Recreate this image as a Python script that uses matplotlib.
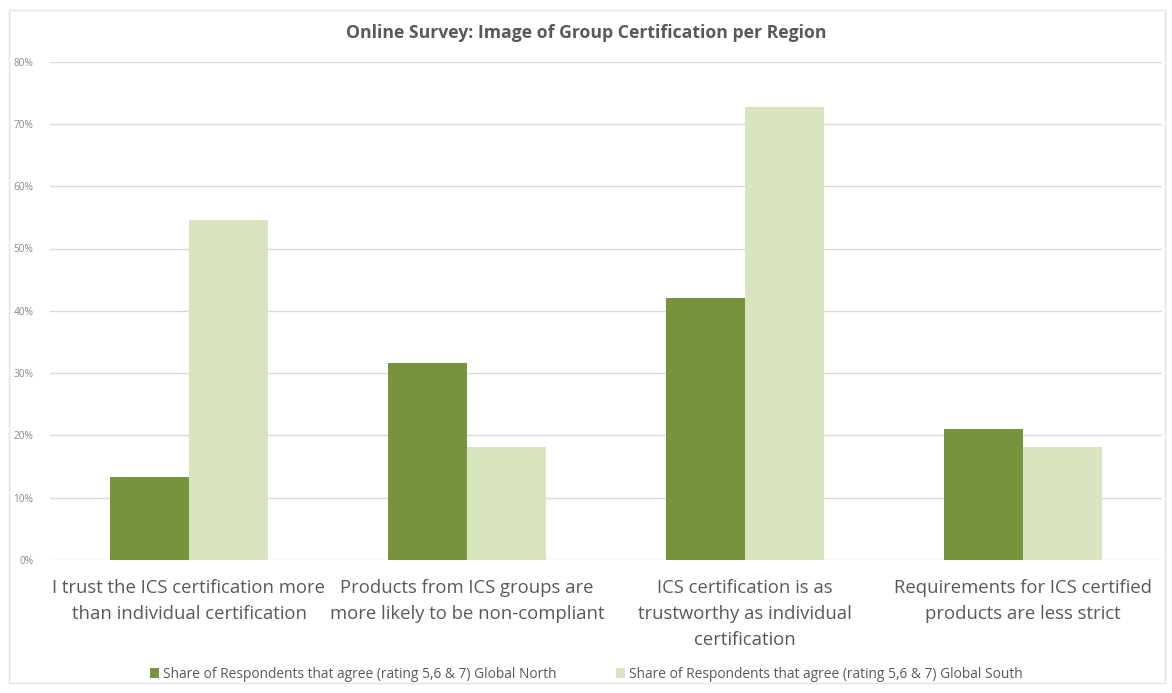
import matplotlib

matplotlib.use("Agg")
import matplotlib.pyplot as plt
import numpy as np
from matplotlib.patches import Rectangle
from matplotlib.ticker import FuncFormatter

plt.rcParams["font.family"] = ["Open Sans", "DejaVu Sans"]

categories = [
    "I trust the ICS certification more\nthan individual certification",
    "Products from ICS groups are\nmore likely to be non-compliant",
    "ICS certification is as\ntrustworthy as individual\ncertification",
    "Requirements for ICS certified\nproducts are less strict",
]
north = [13.3, 31.6, 42.1, 21.1]
south = [54.6, 18.2, 72.7, 18.2]
series_names = [
    "Share of Respondents that agree (rating 5,6 & 7) Global North",
    "Share of Respondents that agree (rating 5,6 & 7) Global South",
]
title = "Online Survey: Image of Group Certification per Region"

W, H = 1172, 693
fig = plt.figure(figsize=(W / 100, H / 100), dpi=100)
ax = fig.add_axes([50 / W, 1 - 560 / H, 1112 / W, (560 - 61.6) / H])

x = np.arange(len(categories))
bw = 0.285
ax.bar(x - bw / 2, north, bw, color="#77933c", label=series_names[0], zorder=3)
ax.bar(x + bw / 2, south, bw, color="#d7e4bd", label=series_names[1], zorder=3)

ax.set_xlim(-0.5, len(categories) - 0.5)
ax.set_ylim(0, 80)
ax.set_yticks(np.arange(0, 81, 10))
ax.yaxis.set_major_formatter(FuncFormatter(lambda v, _: f"{v:.0f}%"))
ax.tick_params(axis="y", length=0, pad=12, labelsize=7.3, labelcolor="#8a8a8a")
ax.set_xticks(x)
ax.set_xticklabels(categories, fontsize=13.3, color="#595959", linespacing=1.55)
ax.tick_params(axis="x", length=0, pad=14)
ax.grid(axis="y", color="#d9d9d9", linewidth=1, zorder=0)
for s in ax.spines.values():
    s.set_visible(False)

fig.text(0.5, 1 - 33 / H, title, ha="center", va="center",
         fontsize=12.7, fontweight="bold", color="#595959")

fig.legend(loc="center", bbox_to_anchor=(0.5, 1 - 674 / H), ncol=2, frameon=False,
           fontsize=9.9, labelcolor="#595959", handlelength=0.7, handleheight=0.7,
           handletextpad=0.25, columnspacing=4.3)

fig.patches.append(Rectangle((9 / W, 10 / H), (1165 - 9) / W, (683 - 10) / H,
                             transform=fig.transFigure, fill=False,
                             edgecolor="#e3e3e3", linewidth=1))

fig.savefig("out.png", dpi=100)
